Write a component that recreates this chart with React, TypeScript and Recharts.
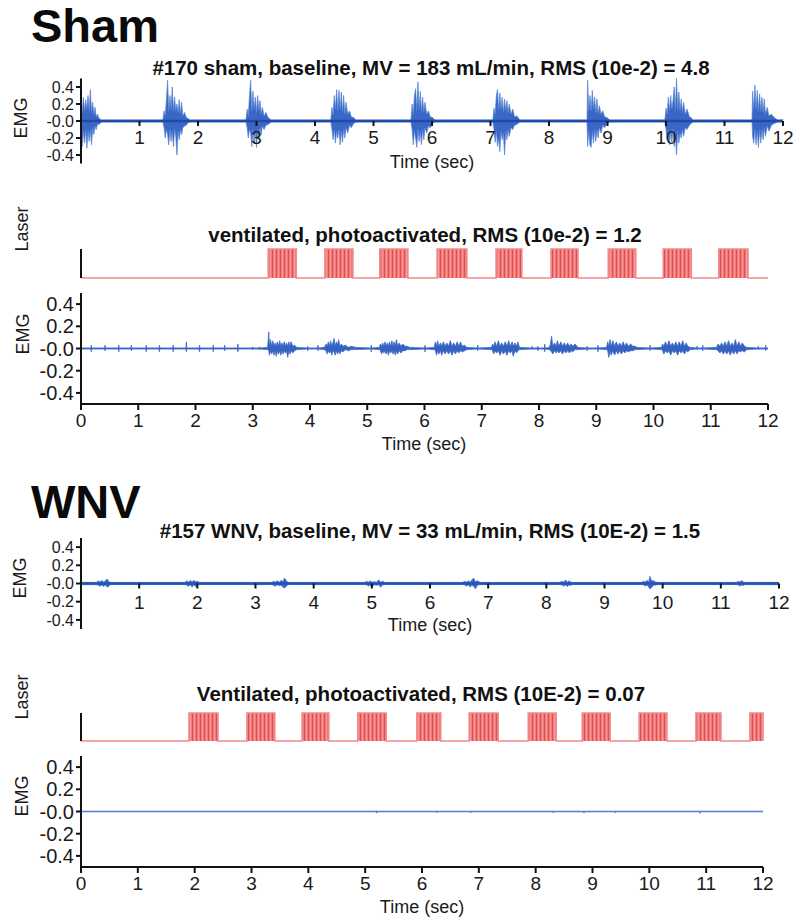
import React from "react";
import { ComposedChart, Area, Line, XAxis, YAxis } from "recharts";

const FONT = '"Liberation Sans", Arial, Helvetica, sans-serif';

// ---------- ticks ----------
const timeTicks = [0, 1, 2, 3, 4, 5, 6, 7, 8, 9, 10, 11, 12];
const timeTicksNoZero = [1, 2, 3, 4, 5, 6, 7, 8, 9, 10, 11, 12];
const emgTicks = [0.4, 0.2, 0, -0.2, -0.4];

// ---------- Sham baseline EMG bursts: [time, high, low] ----------
const shamBaseBurst1 = [[0.0, 0.22, -0.18], [0.02, 0.1, -0.3], [0.04, 0.28, -0.12], [0.06, 0.12, -0.26], [0.08, 0.25, -0.1], [0.1, 0.14, -0.32], [0.12, 0.3, -0.12], [0.14, 0.12, -0.24], [0.16, 0.37, -0.1], [0.18, 0.1, -0.28], [0.2, 0.22, -0.08], [0.22, 0.08, -0.16], [0.24, 0.16, -0.06], [0.26, 0.05, -0.1], [0.28, 0.08, -0.04], [0.31, 0.03, -0.04], [0.35, 0.012, -0.012]];
const shamBaseBurst2 = [[1.4, 0.012, -0.012], [1.42, 0.12, -0.08], [1.44, 0.06, -0.2], [1.46, 0.25, -0.1], [1.48, 0.48, -0.16], [1.5, 0.12, -0.28], [1.52, 0.3, -0.1], [1.54, 0.14, -0.24], [1.56, 0.4, -0.12], [1.58, 0.12, -0.3], [1.6, 0.28, -0.1], [1.62, 0.12, -0.18], [1.64, 0.2, -0.4], [1.66, 0.1, -0.12], [1.68, 0.25, -0.22], [1.7, 0.08, -0.1], [1.72, 0.22, -0.16], [1.74, 0.06, -0.08], [1.77, 0.1, -0.06], [1.8, 0.04, -0.05], [1.83, 0.03, -0.02], [1.86, 0.012, -0.012]];
const shamBaseBurst3 = [[2.82, 0.012, -0.012], [2.84, 0.14, -0.08], [2.86, 0.06, -0.2], [2.88, 0.3, -0.1], [2.9, 0.48, -0.14], [2.92, 0.12, -0.3], [2.94, 0.35, -0.1], [2.96, 0.14, -0.26], [2.98, 0.28, -0.12], [3.0, 0.1, -0.31], [3.02, 0.3, -0.1], [3.04, 0.12, -0.22], [3.06, 0.24, -0.08], [3.08, 0.08, -0.16], [3.1, 0.16, -0.06], [3.13, 0.06, -0.1], [3.16, 0.1, -0.05], [3.2, 0.04, -0.04], [3.25, 0.012, -0.012]];
const shamBaseBurst4 = [[4.27, 0.012, -0.012], [4.29, 0.16, -0.1], [4.31, 0.08, -0.22], [4.33, 0.3, -0.1], [4.35, 0.14, -0.26], [4.37, 0.37, -0.12], [4.39, 0.12, -0.2], [4.41, 0.36, -0.1], [4.43, 0.14, -0.28], [4.45, 0.34, -0.12], [4.47, 0.1, -0.25], [4.49, 0.3, -0.1], [4.51, 0.08, -0.2], [4.53, 0.22, -0.08], [4.56, 0.08, -0.14], [4.59, 0.12, -0.05], [4.62, 0.05, -0.08], [4.66, 0.04, -0.03], [4.7, 0.012, -0.012]];
const shamBaseBurst5 = [[5.64, 0.012, -0.012], [5.66, 0.2, -0.1], [5.68, 0.08, -0.28], [5.7, 0.3, -0.12], [5.72, 0.38, -0.2], [5.74, 0.12, -0.31], [5.76, 0.46, -0.1], [5.78, 0.14, -0.24], [5.8, 0.35, -0.12], [5.82, 0.1, -0.28], [5.84, 0.28, -0.1], [5.86, 0.1, -0.22], [5.88, 0.22, -0.08], [5.91, 0.08, -0.14], [5.94, 0.12, -0.06], [5.97, 0.05, -0.08], [6.01, 0.04, -0.03], [6.05, 0.012, -0.012]];
const shamBaseBurst6 = [[7.04, 0.012, -0.012], [7.06, 0.15, -0.1], [7.08, 0.08, -0.25], [7.1, 0.3, -0.12], [7.12, 0.37, -0.3], [7.14, 0.12, -0.2], [7.16, 0.33, -0.36], [7.18, 0.14, -0.12], [7.2, 0.28, -0.22], [7.22, 0.1, -0.14], [7.24, 0.26, -0.4], [7.26, 0.12, -0.12], [7.28, 0.24, -0.22], [7.3, 0.1, -0.1], [7.32, 0.2, -0.18], [7.35, 0.08, -0.08], [7.38, 0.14, -0.1], [7.41, 0.05, -0.05], [7.45, 0.06, -0.04], [7.5, 0.012, -0.012]];
const shamBaseBurst7 = [[8.65, 0.012, -0.012], [8.66, 0.48, -0.3], [8.68, 0.12, -0.12], [8.7, 0.3, -0.28], [8.72, 0.12, -0.31], [8.74, 0.36, -0.12], [8.76, 0.14, -0.26], [8.78, 0.28, -0.1], [8.8, 0.1, -0.24], [8.82, 0.26, -0.1], [8.84, 0.08, -0.2], [8.86, 0.18, -0.08], [8.89, 0.08, -0.14], [8.92, 0.12, -0.05], [8.95, 0.05, -0.08], [8.99, 0.04, -0.03], [9.04, 0.012, -0.012]];
const shamBaseBurst8 = [[9.98, 0.012, -0.012], [10.0, 0.15, -0.1], [10.02, 0.08, -0.22], [10.04, 0.28, -0.1], [10.06, 0.12, -0.28], [10.08, 0.3, -0.12], [10.1, 0.14, -0.25], [10.12, 0.24, -0.1], [10.14, 0.4, -0.3], [10.16, 0.12, -0.14], [10.18, 0.5, -0.4], [10.2, 0.14, -0.12], [10.22, 0.34, -0.26], [10.24, 0.12, -0.14], [10.26, 0.26, -0.2], [10.28, 0.1, -0.1], [10.3, 0.22, -0.18], [10.33, 0.08, -0.08], [10.36, 0.14, -0.1], [10.4, 0.05, -0.05], [10.43, 0.04, -0.03], [10.46, 0.012, -0.012]];
const shamBaseBurst9 = [[11.47, 0.012, -0.012], [11.48, 0.35, -0.18], [11.5, 0.14, -0.26], [11.52, 0.42, -0.1], [11.54, 0.14, -0.28], [11.56, 0.36, -0.12], [11.58, 0.12, -0.31], [11.6, 0.32, -0.1], [11.62, 0.12, -0.26], [11.64, 0.28, -0.1], [11.66, 0.1, -0.22], [11.68, 0.26, -0.08], [11.7, 0.08, -0.18], [11.73, 0.16, -0.06], [11.76, 0.06, -0.12], [11.8, 0.08, -0.05], [11.85, 0.04, -0.03], [11.91, 0.012, -0.012]];

// ---------- Sham photoactivated EMG ----------
const shamStimSpikes = [[0.18, 0.03, -0.03], [0.42, 0.03, -0.02], [0.66, 0.03, -0.03], [0.88, 0.03, -0.02], [1.14, 0.03, -0.03], [1.37, 0.03, -0.03], [1.61, 0.03, -0.03], [1.84, 0.06, -0.03], [2.07, 0.03, -0.03], [2.31, 0.03, -0.03], [2.51, 0.03, -0.02], [2.74, 0.04, -0.03], [3.0, 0.015, -0.01], [3.12, 0.015, -0.01], [3.96, 0.02, -0.02], [4.14, 0.03, -0.02], [5.07, 0.03, -0.03], [6.01, 0.03, -0.03], [6.93, 0.03, -0.02], [7.88, 0.02, -0.01], [7.98, 0.02, -0.02], [8.1, 0.04, -0.03], [8.84, 0.02, -0.02], [9.03, 0.03, -0.03], [9.94, 0.03, -0.02], [10.76, 0.02, -0.01], [10.86, 0.03, -0.02], [11.83, 0.02, -0.01], [11.96, 0.03, -0.02]];
const shamStimBurst1 = [[3.26, 0.01, -0.01], [3.28, 0.15, -0.02], [3.29, 0.03, -0.06], [3.31, 0.08, -0.02], [3.33, 0.02, -0.05], [3.35, 0.07, -0.02], [3.37, 0.02, -0.06], [3.39, 0.05, -0.02], [3.41, 0.02, -0.07], [3.43, 0.06, -0.02], [3.45, 0.02, -0.05], [3.47, 0.07, -0.02], [3.49, 0.02, -0.06], [3.51, 0.05, -0.02], [3.53, 0.02, -0.05], [3.55, 0.06, -0.02], [3.57, 0.02, -0.04], [3.59, 0.05, -0.02], [3.61, 0.02, -0.08], [3.63, 0.06, -0.02], [3.65, 0.02, -0.05], [3.67, 0.06, -0.02], [3.7, 0.02, -0.04], [3.73, 0.03, -0.02], [3.77, 0.01, -0.01]];
const shamStimBurst2 = [[4.25, 0.01, -0.01], [4.28, 0.04, -0.02], [4.3, 0.02, -0.05], [4.32, 0.06, -0.02], [4.34, 0.02, -0.04], [4.36, 0.07, -0.02], [4.38, 0.02, -0.06], [4.4, 0.05, -0.02], [4.42, 0.09, -0.03], [4.44, 0.02, -0.06], [4.46, 0.06, -0.02], [4.48, 0.03, -0.05], [4.5, 0.08, -0.02], [4.52, 0.02, -0.05], [4.55, 0.04, -0.02], [4.58, 0.02, -0.03], [4.62, 0.03, -0.01], [4.67, 0.01, -0.02], [4.72, 0.02, -0.01], [4.8, 0.01, -0.01]];
const shamStimBurst3 = [[5.21, 0.01, -0.01], [5.23, 0.04, -0.02], [5.25, 0.02, -0.05], [5.27, 0.05, -0.02], [5.29, 0.02, -0.04], [5.31, 0.06, -0.02], [5.33, 0.02, -0.05], [5.35, 0.05, -0.02], [5.37, 0.02, -0.06], [5.39, 0.06, -0.02], [5.41, 0.02, -0.04], [5.43, 0.07, -0.02], [5.45, 0.02, -0.05], [5.47, 0.06, -0.02], [5.49, 0.02, -0.06], [5.51, 0.08, -0.02], [5.53, 0.02, -0.05], [5.56, 0.05, -0.02], [5.59, 0.02, -0.04], [5.62, 0.04, -0.02], [5.66, 0.02, -0.02], [5.7, 0.02, -0.01], [5.74, 0.01, -0.01]];
const shamStimBurst4 = [[6.17, 0.01, -0.01], [6.19, 0.06, -0.02], [6.21, 0.02, -0.06], [6.23, 0.07, -0.02], [6.25, 0.02, -0.05], [6.28, 0.05, -0.02], [6.3, 0.02, -0.06], [6.33, 0.06, -0.02], [6.36, 0.02, -0.05], [6.39, 0.05, -0.02], [6.42, 0.02, -0.05], [6.45, 0.07, -0.02], [6.48, 0.02, -0.06], [6.51, 0.05, -0.02], [6.54, 0.02, -0.05], [6.57, 0.06, -0.02], [6.6, 0.02, -0.04], [6.63, 0.06, -0.02], [6.66, 0.02, -0.03], [6.7, 0.03, -0.02], [6.74, 0.01, -0.01]];
const shamStimBurst5 = [[7.17, 0.01, -0.01], [7.19, 0.04, -0.02], [7.21, 0.02, -0.05], [7.23, 0.06, -0.02], [7.26, 0.02, -0.04], [7.29, 0.07, -0.02], [7.32, 0.02, -0.06], [7.35, 0.05, -0.02], [7.38, 0.02, -0.05], [7.41, 0.06, -0.02], [7.44, 0.02, -0.06], [7.47, 0.07, -0.02], [7.5, 0.02, -0.04], [7.53, 0.06, -0.02], [7.55, 0.02, -0.07], [7.58, 0.05, -0.02], [7.61, 0.02, -0.04], [7.63, 0.06, -0.02], [7.66, 0.01, -0.01]];
const shamStimBurst6 = [[8.18, 0.01, -0.01], [8.2, 0.04, -0.02], [8.22, 0.11, -0.03], [8.24, 0.02, -0.05], [8.27, 0.05, -0.02], [8.3, 0.02, -0.04], [8.32, 0.07, -0.02], [8.35, 0.02, -0.04], [8.38, 0.06, -0.02], [8.41, 0.02, -0.05], [8.44, 0.05, -0.02], [8.47, 0.02, -0.04], [8.5, 0.05, -0.02], [8.53, 0.02, -0.04], [8.56, 0.04, -0.02], [8.59, 0.02, -0.03], [8.63, 0.04, -0.01], [8.68, 0.01, -0.01]];
const shamStimBurst7 = [[9.18, 0.01, -0.01], [9.2, 0.06, -0.02], [9.22, 0.02, -0.08], [9.24, 0.08, -0.02], [9.26, 0.02, -0.06], [9.29, 0.07, -0.02], [9.32, 0.02, -0.06], [9.35, 0.06, -0.02], [9.38, 0.02, -0.05], [9.41, 0.05, -0.02], [9.44, 0.02, -0.05], [9.47, 0.06, -0.02], [9.5, 0.02, -0.04], [9.53, 0.05, -0.02], [9.56, 0.02, -0.03], [9.6, 0.04, -0.02], [9.64, 0.02, -0.02], [9.68, 0.02, -0.01], [9.71, 0.01, -0.01]];
const shamStimBurst8 = [[10.14, 0.01, -0.01], [10.16, 0.04, -0.02], [10.18, 0.02, -0.05], [10.21, 0.06, -0.02], [10.24, 0.02, -0.04], [10.27, 0.07, -0.02], [10.3, 0.02, -0.06], [10.33, 0.05, -0.02], [10.36, 0.02, -0.04], [10.39, 0.06, -0.02], [10.42, 0.02, -0.06], [10.45, 0.06, -0.02], [10.48, 0.02, -0.04], [10.51, 0.07, -0.02], [10.54, 0.02, -0.05], [10.57, 0.05, -0.02], [10.6, 0.02, -0.03], [10.64, 0.01, -0.01]];
const shamStimBurst9 = [[11.1, 0.01, -0.01], [11.13, 0.04, -0.02], [11.16, 0.02, -0.04], [11.19, 0.05, -0.02], [11.22, 0.02, -0.05], [11.25, 0.06, -0.02], [11.28, 0.02, -0.05], [11.31, 0.07, -0.02], [11.34, 0.02, -0.06], [11.37, 0.05, -0.02], [11.4, 0.02, -0.05], [11.43, 0.08, -0.02], [11.46, 0.02, -0.05], [11.49, 0.06, -0.02], [11.52, 0.02, -0.03], [11.55, 0.05, -0.02], [11.59, 0.02, -0.03], [11.63, 0.01, -0.01]];

// ---------- WNV baseline EMG bursts ----------
const wnvBaseBurst1 = [[0.27, 0.012, -0.012], [0.3, 0.03, -0.02], [0.33, 0.015, -0.03], [0.36, 0.035, -0.015], [0.39, 0.015, -0.035], [0.42, 0.03, -0.015], [0.45, 0.05, -0.04], [0.48, 0.02, -0.03], [0.5, 0.012, -0.012]];
const wnvBaseBurst2 = [[1.79, 0.012, -0.012], [1.82, 0.03, -0.02], [1.85, 0.015, -0.03], [1.88, 0.035, -0.015], [1.91, 0.015, -0.04], [1.94, 0.035, -0.015], [1.97, 0.02, -0.035], [2.0, 0.025, -0.015], [2.04, 0.012, -0.012]];
const wnvBaseBurst3 = [[3.28, 0.012, -0.012], [3.31, 0.025, -0.02], [3.34, 0.015, -0.03], [3.37, 0.03, -0.015], [3.41, 0.015, -0.025], [3.44, 0.035, -0.02], [3.47, 0.02, -0.04], [3.5, 0.06, -0.05], [3.53, 0.03, -0.03], [3.56, 0.012, -0.012]];
const wnvBaseBurst4 = [[4.88, 0.012, -0.012], [4.91, 0.025, -0.015], [4.94, 0.015, -0.03], [4.97, 0.03, -0.015], [5.0, 0.015, -0.04], [5.04, 0.02, -0.015], [5.08, 0.015, -0.02], [5.12, 0.04, -0.015], [5.15, 0.015, -0.04], [5.19, 0.025, -0.015], [5.22, 0.012, -0.012]];
const wnvBaseBurst5 = [[6.56, 0.012, -0.012], [6.6, 0.025, -0.015], [6.63, 0.015, -0.03], [6.66, 0.03, -0.015], [6.69, 0.015, -0.04], [6.72, 0.04, -0.02], [6.75, 0.06, -0.03], [6.78, 0.02, -0.06], [6.82, 0.03, -0.015], [6.86, 0.012, -0.012]];
const wnvBaseBurst6 = [[8.23, 0.012, -0.012], [8.27, 0.025, -0.015], [8.3, 0.015, -0.03], [8.33, 0.04, -0.015], [8.36, 0.015, -0.035], [8.39, 0.03, -0.015], [8.42, 0.015, -0.025], [8.44, 0.012, -0.012]];
const wnvBaseBurst7 = [[9.64, 0.012, -0.012], [9.67, 0.025, -0.015], [9.7, 0.015, -0.03], [9.73, 0.035, -0.015], [9.76, 0.02, -0.04], [9.78, 0.08, -0.06], [9.81, 0.03, -0.045], [9.85, 0.03, -0.015], [9.88, 0.015, -0.02], [9.91, 0.012, -0.012]];
const wnvBaseBurst8 = [[11.27, 0.012, -0.012], [11.3, 0.025, -0.015], [11.33, 0.015, -0.03], [11.36, 0.035, -0.015], [11.39, 0.015, -0.025], [11.41, 0.012, -0.012]];

// ---------- WNV photoactivated EMG (nearly flat) ----------
const wnvStimSpikes = [[5.2, 0.005, -0.015], [6.26, 0.005, -0.012], [6.86, 0.004, -0.012], [8.31, 0.004, -0.012], [8.85, 0.004, -0.015], [9.4, 0.004, -0.012], [10.89, 0.006, -0.018]];

// ---------- Laser pulse trains [on, off] (sec) ----------
const shamLaserTrains = [[3.27, 3.76], [4.26, 4.75], [5.22, 5.71], [6.22, 6.74], [7.25, 7.7], [8.21, 8.68], [9.21, 9.69], [10.17, 10.66], [11.14, 11.65]];
const wnvLaserTrains = [[1.9, 2.41], [2.92, 3.41], [3.89, 4.36], [4.87, 5.37], [5.91, 6.33], [6.83, 7.34], [7.87, 8.36], [8.82, 9.31], [9.82, 10.31], [10.82, 11.26], [11.77, 12.0]];

// ---------- builders ----------
type Row = { t: number; env: number[]; axis: number };
function buildTrace(bursts: number[][][], spikes: number[][], band: number): Row[] {
  const rows: Row[] = [{ t: 0, env: [-band, band], axis: 0 }];
  bursts.forEach((b) => b.forEach(([t, hi, lo]) => rows.push({ t, env: [lo, hi], axis: 0 })));
  spikes.forEach(([t, hi, lo]) => {
    rows.push({ t: t - 0.008, env: [-band, band], axis: 0 });
    rows.push({ t, env: [lo, hi], axis: 0 });
    rows.push({ t: t + 0.008, env: [-band, band], axis: 0 });
  });
  rows.push({ t: 12, env: [-band, band], axis: 0 });
  return rows.sort((a, b) => a.t - b.t);
}
function buildLaser(trains: number[][]) {
  const rows: { t: number; v: number }[] = [{ t: 0, v: 0 }];
  trains.forEach(([s, e]) => {
    rows.push({ t: s, v: 0 }, { t: s, v: 1 }, { t: e, v: 1 }, { t: e, v: 0 });
  });
  rows.push({ t: 12, v: 0 });
  return rows;
}

const shamBaseData = buildTrace([shamBaseBurst1, shamBaseBurst2, shamBaseBurst3, shamBaseBurst4, shamBaseBurst5, shamBaseBurst6, shamBaseBurst7, shamBaseBurst8, shamBaseBurst9], [], 0.015);
const shamStimData = buildTrace([shamStimBurst1, shamStimBurst2, shamStimBurst3, shamStimBurst4, shamStimBurst5, shamStimBurst6, shamStimBurst7, shamStimBurst8, shamStimBurst9], shamStimSpikes, 0.005);
const wnvBaseData = buildTrace([wnvBaseBurst1, wnvBaseBurst2, wnvBaseBurst3, wnvBaseBurst4, wnvBaseBurst5, wnvBaseBurst6, wnvBaseBurst7, wnvBaseBurst8], [], 0.013);
const wnvStimData = buildTrace([], wnvStimSpikes, 0.003);
const shamLaserData = buildLaser(shamLaserTrains);
const wnvLaserData = buildLaser(wnvLaserTrains);

// ---------- styling helpers ----------
const AXIS = { stroke: "#111", strokeWidth: 2 };
const yTick = { fontSize: 20, fill: "#1a1a1a", fontFamily: FONT };
const yTickSmall = { fontSize: 16, fill: "#1a1a1a", fontFamily: FONT };
const xTick = { fontSize: 19, fill: "#1a1a1a", fontFamily: FONT };
const fmtY = (v: number) => (v === 0 ? "-0.0" : v.toFixed(1));

const ShiftTick = (props: any) => {
  const { x, y, payload, shift, gap } = props;
  const y0 = y - shift;
  return (
    <g>
      <line x1={x} x2={x} y1={y0} y2={y0 + 5} stroke="#111" strokeWidth={2} />
      <text x={x} y={y0 + gap} dy="0.71em" textAnchor="middle" fontSize={19} fontFamily={FONT} fill="#1a1a1a">
        {payload.value}
      </text>
    </g>
  );
};

const abs = (top: number): React.CSSProperties => ({ position: "absolute", left: 0, top });

function BaselinePanel({ data, top, height, margin, shift, gap, fill, stroke, lineColor }: any) {
  return (
    <div style={abs(top)}>
      <ComposedChart width={800} height={height} data={data} margin={margin}>
        <XAxis dataKey="t" type="number" domain={[0, 12]} ticks={timeTicksNoZero} interval={0} height={30}
          axisLine={false} tickLine={false} tickSize={0} tickMargin={0}
          tick={(p: any) => <ShiftTick {...p} shift={shift} gap={gap} />} />
        <YAxis type="number" domain={[-0.5, 0.5]} ticks={emgTicks} interval={0} width={60}
          tickFormatter={fmtY} tick={yTickSmall} axisLine={AXIS} tickLine={AXIS} tickSize={5} tickMargin={2} />
        <Area dataKey="env" type="linear" stroke={stroke} strokeWidth={0.7} fill={fill} fillOpacity={1}
          dot={false} activeDot={false} isAnimationActive={false} />
        <Line dataKey="axis" stroke={lineColor} strokeWidth={2.6} dot={false} activeDot={false} isAnimationActive={false} />
      </ComposedChart>
    </div>
  );
}

function StimPanel({ data, top, height, margin, fill, stroke, strokeWidth }: any) {
  return (
    <div style={abs(top)}>
      <ComposedChart width={800} height={height} data={data} margin={margin}>
        <XAxis dataKey="t" type="number" domain={[0, 12]} ticks={timeTicks} interval={0} height={30}
          tick={xTick} axisLine={AXIS} tickLine={AXIS} tickSize={6} tickMargin={4} />
        <YAxis type="number" domain={[-0.5, 0.5]} ticks={emgTicks} interval={0} width={60}
          tickFormatter={fmtY} tick={yTick} axisLine={AXIS} tickLine={AXIS} tickSize={5} tickMargin={2} />
        <Area dataKey="env" type="linear" stroke={stroke} strokeWidth={strokeWidth} fill={fill} fillOpacity={1}
          dot={false} activeDot={false} isAnimationActive={false} />
      </ComposedChart>
    </div>
  );
}

function LaserPanel({ data, top, height, margin, id }: any) {
  return (
    <div style={abs(top)}>
      <ComposedChart width={800} height={height} data={data} margin={margin}>
        <defs>
          <pattern id={id} x="0" y="0" width="4" height="40" patternUnits="userSpaceOnUse">
            <rect x="0" y="0" width="4" height="40" fill="#f47b7b" />
            <rect x="0" y="0" width="1" height="40" fill="#de4f4f" />
            <rect x="2.4" y="0" width="0.6" height="40" fill="#f9a8a8" />
          </pattern>
        </defs>
        <XAxis dataKey="t" type="number" domain={[0, 12]} hide />
        <YAxis type="number" domain={[0, 1]} ticks={[0]} width={60} tick={false}
          axisLine={AXIS} tickLine={AXIS} tickSize={4} />
        <Area dataKey="v" type="linear" stroke="#f08a8a" strokeWidth={1.6} fill={`url(#${id})`} fillOpacity={1}
          dot={false} activeDot={false} isAnimationActive={false} />
      </ComposedChart>
    </div>
  );
}

const VLabel = ({ x, y, children }: any) => (
  <text transform={`translate(${x},${y}) rotate(-90)`} textAnchor="middle" dominantBaseline="central"
    fontSize={18} fontFamily={FONT} fill="#1a1a1a">{children}</text>
);
const Title = ({ x, y, children }: any) => (
  <text x={x} y={y} textAnchor="middle" fontSize={20.5} fontWeight="bold" fontFamily={FONT} fill="#111">{children}</text>
);
const TimeLabel = ({ x, y }: any) => (
  <text x={x} y={y} textAnchor="middle" fontSize={18} fontFamily={FONT} fill="#1a1a1a">Time (sec)</text>
);

export default function App() {
  return (
    <div style={{ position: "absolute", left: 0, top: 0, width: 800, height: 922, background: "#fff", overflow: "hidden" }}>
      <BaselinePanel data={shamBaseData} top={60} height={150}
        margin={{ top: 18.5, right: 17, bottom: 16.5, left: 21 }} shift={42.5} gap={10}
        fill="#3a67c6" stroke="#5582d4" lineColor="#1f4aa8" />
      <LaserPanel data={shamLaserData} top={240} height={45} margin={{ top: 9, right: 32, bottom: 7, left: 21 }} id="pulseSham" />
      <StimPanel data={shamStimData} top={285} height={175} margin={{ top: 8, right: 32, bottom: 26, left: 21 }}
        fill="#3561c0" stroke="#3d69c8" strokeWidth={0.8} />
      <BaselinePanel data={wnvBaseData} top={520} height={150}
        margin={{ top: 18, right: 21, bottom: 11, left: 21 }} shift={45.5} gap={12}
        fill="#3566c6" stroke="#4474cf" lineColor="#2553b3" />
      <LaserPanel data={wnvLaserData} top={705} height={40} margin={{ top: 8, right: 37, bottom: 4, left: 21 }} id="pulseWnv" />
      <StimPanel data={wnvStimData} top={745} height={175} margin={{ top: 11, right: 37, bottom: 23, left: 21 }}
        fill="#3d6ccc" stroke="#4573d0" strokeWidth={0.8} />

      <svg width={800} height={922} style={{ position: "absolute", left: 0, top: 0, pointerEvents: "none" }}>
        <text x={31} y={42} fontSize={47} fontWeight="bold" fontFamily={FONT} fill="#0a0a0a">Sham</text>
        <text x={31} y={518} fontSize={47} fontWeight="bold" fontFamily={FONT} fill="#0a0a0a">WNV</text>

        <Title x={431} y={75}>#170 sham, baseline, MV = 183 mL/min, RMS (10e-2) = 4.8</Title>
        <Title x={425} y={242}>ventilated, photoactivated, RMS (10e-2) = 1.2</Title>
        <Title x={430} y={538}>#157 WNV, baseline, MV = 33 mL/min, RMS (10E-2) = 1.5</Title>
        <Title x={421} y={701}>Ventilated, photoactivated, RMS (10E-2) = 0.07</Title>

        <VLabel x={21} y={118}>EMG</VLabel>
        <VLabel x={23} y={334}>EMG</VLabel>
        <VLabel x={20} y={578}>EMG</VLabel>
        <VLabel x={22} y={796}>EMG</VLabel>
        <VLabel x={22} y={229}>Laser</VLabel>
        <VLabel x={22} y={697}>Laser</VLabel>

        <TimeLabel x={432} y={168} />
        <TimeLabel x={424} y={450} />
        <TimeLabel x={430} y={631} />
        <TimeLabel x={422} y={913} />
      </svg>
    </div>
  );
}
